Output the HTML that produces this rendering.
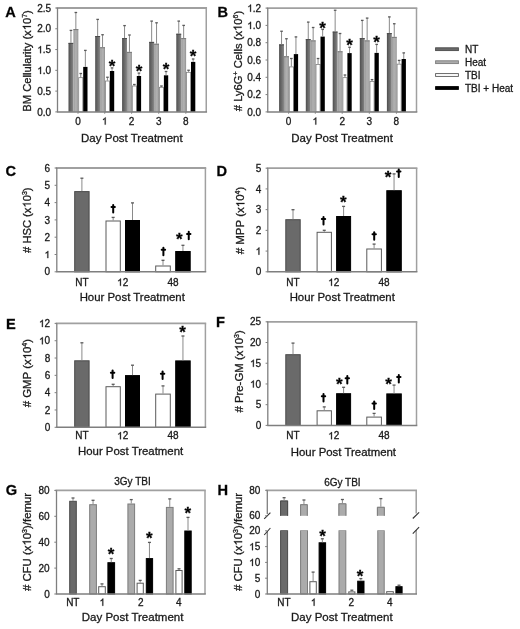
<!DOCTYPE html>
<html><head><meta charset="utf-8"><style>
html,body{margin:0;padding:0;background:#fff;width:520px;height:629px;overflow:hidden;}
body{position:relative;font-family:"Liberation Sans", sans-serif;}
svg{filter:grayscale(1);}
text{stroke:#1a1a1a;stroke-width:0.3px;}
</style></head><body>
<svg width="520" height="629" viewBox="0 0 520 629" style="position:absolute;left:0;top:0">
<rect width="520" height="629" fill="#fff"/>
<defs><linearGradient id="gNT" x1="0" x2="1" y1="0" y2="0"><stop offset="0" stop-color="#4c4c4c"/><stop offset="0.25" stop-color="#5e5e5e"/><stop offset="0.65" stop-color="#737373"/><stop offset="1" stop-color="#8a8a8a"/></linearGradient><linearGradient id="gHT" x1="0" x2="1" y1="0" y2="0"><stop offset="0" stop-color="#9a9a9a"/><stop offset="0.45" stop-color="#b0b0b0"/><stop offset="0.8" stop-color="#a8a8a8"/><stop offset="1" stop-color="#868686"/></linearGradient></defs>
<rect x="68.50" y="42.90" width="4.90" height="69.00" fill="url(#gNT)"/>
<line x1="68.50" y1="43.40" x2="73.40" y2="43.40" stroke="#4a4a4a" stroke-width="1"/>
<line x1="70.95" y1="42.90" x2="70.95" y2="30.40" stroke="#8a8a8a" stroke-width="1"/>
<line x1="69.65" y1="30.40" x2="72.25" y2="30.40" stroke="#5a5a5a" stroke-width="1.3"/>
<rect x="73.40" y="29.10" width="4.90" height="82.80" fill="url(#gHT)"/>
<line x1="73.40" y1="29.60" x2="78.30" y2="29.60" stroke="#7a7a7a" stroke-width="1"/>
<line x1="75.85" y1="29.10" x2="75.85" y2="12.50" stroke="#8a8a8a" stroke-width="1"/>
<line x1="74.55" y1="12.50" x2="77.15" y2="12.50" stroke="#5a5a5a" stroke-width="1.3"/>
<rect x="78.70" y="77.65" width="4.10" height="34.25" fill="#fff" stroke="#808080" stroke-width="0.8"/>
<line x1="80.75" y1="77.25" x2="80.75" y2="73.50" stroke="#8a8a8a" stroke-width="1"/>
<line x1="79.45" y1="73.50" x2="82.05" y2="73.50" stroke="#5a5a5a" stroke-width="1.3"/>
<rect x="83.20" y="66.90" width="4.30" height="45.00" fill="#000"/>
<line x1="85.35" y1="66.90" x2="85.35" y2="50.40" stroke="#8a8a8a" stroke-width="1"/>
<line x1="84.05" y1="50.40" x2="86.65" y2="50.40" stroke="#5a5a5a" stroke-width="1.3"/>
<rect x="95.20" y="36.00" width="4.90" height="75.90" fill="url(#gNT)"/>
<line x1="95.20" y1="36.50" x2="100.10" y2="36.50" stroke="#4a4a4a" stroke-width="1"/>
<line x1="97.65" y1="36.00" x2="97.65" y2="19.40" stroke="#8a8a8a" stroke-width="1"/>
<line x1="96.35" y1="19.40" x2="98.95" y2="19.40" stroke="#5a5a5a" stroke-width="1.3"/>
<rect x="100.10" y="47.25" width="4.90" height="64.65" fill="url(#gHT)"/>
<line x1="100.10" y1="47.75" x2="105.00" y2="47.75" stroke="#7a7a7a" stroke-width="1"/>
<line x1="102.55" y1="47.25" x2="102.55" y2="34.75" stroke="#8a8a8a" stroke-width="1"/>
<line x1="101.25" y1="34.75" x2="103.85" y2="34.75" stroke="#5a5a5a" stroke-width="1.3"/>
<rect x="105.40" y="81.00" width="4.10" height="30.90" fill="#fff" stroke="#808080" stroke-width="0.8"/>
<line x1="107.45" y1="80.60" x2="107.45" y2="77.25" stroke="#8a8a8a" stroke-width="1"/>
<line x1="106.15" y1="77.25" x2="108.75" y2="77.25" stroke="#5a5a5a" stroke-width="1.3"/>
<rect x="109.90" y="71.00" width="4.30" height="40.90" fill="#000"/>
<line x1="112.05" y1="71.00" x2="112.05" y2="67.90" stroke="#8a8a8a" stroke-width="1"/>
<line x1="110.75" y1="67.90" x2="113.35" y2="67.90" stroke="#5a5a5a" stroke-width="1.3"/>
<text x="112.05" y="71.83" font-size="17" text-anchor="middle" font-weight="bold" fill="#000">*</text>
<rect x="122.10" y="38.10" width="4.90" height="73.80" fill="url(#gNT)"/>
<line x1="122.10" y1="38.60" x2="127.00" y2="38.60" stroke="#4a4a4a" stroke-width="1"/>
<line x1="124.55" y1="38.10" x2="124.55" y2="25.60" stroke="#8a8a8a" stroke-width="1"/>
<line x1="123.25" y1="25.60" x2="125.85" y2="25.60" stroke="#5a5a5a" stroke-width="1.3"/>
<rect x="127.00" y="51.90" width="4.90" height="60.00" fill="url(#gHT)"/>
<line x1="127.00" y1="52.40" x2="131.90" y2="52.40" stroke="#7a7a7a" stroke-width="1"/>
<line x1="129.45" y1="51.90" x2="129.45" y2="35.00" stroke="#8a8a8a" stroke-width="1"/>
<line x1="128.15" y1="35.00" x2="130.75" y2="35.00" stroke="#5a5a5a" stroke-width="1.3"/>
<rect x="132.30" y="86.00" width="4.10" height="25.90" fill="#fff" stroke="#808080" stroke-width="0.8"/>
<line x1="134.35" y1="85.60" x2="134.35" y2="84.50" stroke="#8a8a8a" stroke-width="1"/>
<line x1="133.05" y1="84.50" x2="135.65" y2="84.50" stroke="#5a5a5a" stroke-width="1.3"/>
<rect x="136.80" y="76.00" width="4.30" height="35.90" fill="#000"/>
<line x1="138.95" y1="76.00" x2="138.95" y2="73.10" stroke="#8a8a8a" stroke-width="1"/>
<line x1="137.65" y1="73.10" x2="140.25" y2="73.10" stroke="#5a5a5a" stroke-width="1.3"/>
<text x="138.95" y="76.63" font-size="17" text-anchor="middle" font-weight="bold" fill="#000">*</text>
<rect x="149.20" y="41.90" width="4.90" height="70.00" fill="url(#gNT)"/>
<line x1="149.20" y1="42.40" x2="154.10" y2="42.40" stroke="#4a4a4a" stroke-width="1"/>
<line x1="151.65" y1="41.90" x2="151.65" y2="21.10" stroke="#8a8a8a" stroke-width="1"/>
<line x1="150.35" y1="21.10" x2="152.95" y2="21.10" stroke="#5a5a5a" stroke-width="1.3"/>
<rect x="154.10" y="43.75" width="4.90" height="68.15" fill="url(#gHT)"/>
<line x1="154.10" y1="44.25" x2="159.00" y2="44.25" stroke="#7a7a7a" stroke-width="1"/>
<line x1="156.55" y1="43.75" x2="156.55" y2="22.80" stroke="#8a8a8a" stroke-width="1"/>
<line x1="155.25" y1="22.80" x2="157.85" y2="22.80" stroke="#5a5a5a" stroke-width="1.3"/>
<rect x="159.40" y="87.30" width="4.10" height="24.60" fill="#fff" stroke="#808080" stroke-width="0.8"/>
<line x1="161.45" y1="86.90" x2="161.45" y2="86.00" stroke="#8a8a8a" stroke-width="1"/>
<line x1="160.15" y1="86.00" x2="162.75" y2="86.00" stroke="#5a5a5a" stroke-width="1.3"/>
<rect x="163.90" y="75.30" width="4.30" height="36.60" fill="#000"/>
<line x1="166.05" y1="75.30" x2="166.05" y2="71.50" stroke="#8a8a8a" stroke-width="1"/>
<line x1="164.75" y1="71.50" x2="167.35" y2="71.50" stroke="#5a5a5a" stroke-width="1.3"/>
<text x="166.05" y="75.43" font-size="17" text-anchor="middle" font-weight="bold" fill="#000">*</text>
<rect x="176.30" y="33.75" width="4.90" height="78.15" fill="url(#gNT)"/>
<line x1="176.30" y1="34.25" x2="181.20" y2="34.25" stroke="#4a4a4a" stroke-width="1"/>
<line x1="178.75" y1="33.75" x2="178.75" y2="21.10" stroke="#8a8a8a" stroke-width="1"/>
<line x1="177.45" y1="21.10" x2="180.05" y2="21.10" stroke="#5a5a5a" stroke-width="1.3"/>
<rect x="181.20" y="38.10" width="4.90" height="73.80" fill="url(#gHT)"/>
<line x1="181.20" y1="38.60" x2="186.10" y2="38.60" stroke="#7a7a7a" stroke-width="1"/>
<line x1="183.65" y1="38.10" x2="183.65" y2="25.40" stroke="#8a8a8a" stroke-width="1"/>
<line x1="182.35" y1="25.40" x2="184.95" y2="25.40" stroke="#5a5a5a" stroke-width="1.3"/>
<rect x="186.50" y="72.30" width="4.10" height="39.60" fill="#fff" stroke="#808080" stroke-width="0.8"/>
<line x1="188.55" y1="71.90" x2="188.55" y2="70.25" stroke="#8a8a8a" stroke-width="1"/>
<line x1="187.25" y1="70.25" x2="189.85" y2="70.25" stroke="#5a5a5a" stroke-width="1.3"/>
<rect x="191.00" y="61.90" width="4.30" height="50.00" fill="#000"/>
<line x1="193.15" y1="61.90" x2="193.15" y2="59.00" stroke="#8a8a8a" stroke-width="1"/>
<line x1="191.85" y1="59.00" x2="194.45" y2="59.00" stroke="#5a5a5a" stroke-width="1.3"/>
<text x="193.15" y="62.28" font-size="17" text-anchor="middle" font-weight="bold" fill="#000">*</text>
<line x1="56.50" y1="8.00" x2="207.05" y2="8.00" stroke="#a0a0a0" stroke-width="1.8"/>
<line x1="206.25" y1="8.00" x2="206.25" y2="111.90" stroke="#a0a0a0" stroke-width="1.5"/>
<line x1="57.50" y1="8.00" x2="57.50" y2="111.90" stroke="#7f7f7f" stroke-width="1.3"/>
<line x1="56.90" y1="111.90" x2="207.05" y2="111.90" stroke="#7f7f7f" stroke-width="1.5"/>
<line x1="55.30" y1="111.90" x2="57.50" y2="111.90" stroke="#7f7f7f" stroke-width="1"/>
<text x="51.20" y="115.50" font-size="10" text-anchor="end" font-weight="normal" fill="#1a1a1a" >0.0</text>
<line x1="55.30" y1="91.12" x2="57.50" y2="91.12" stroke="#7f7f7f" stroke-width="1"/>
<text x="51.20" y="94.72" font-size="10" text-anchor="end" font-weight="normal" fill="#1a1a1a" >0.5</text>
<line x1="55.30" y1="70.34" x2="57.50" y2="70.34" stroke="#7f7f7f" stroke-width="1"/>
<path d="M763 0L583 0L583 1147Q518 1085 465 1054Q412 1023 358.5 992Q305 961 222 930L222 1104Q373 1175 429.5 1225.5Q486 1276 542.5 1326.5Q599 1377 646 1472L763 1472Z" transform="translate(37.30,73.94) scale(0.00488,-0.00488)" fill="#1a1a1a" stroke="#1a1a1a" stroke-width="0.3" vector-effect="non-scaling-stroke"/>
<text x="51.20" y="73.94" font-size="10" text-anchor="end" font-weight="normal" fill="#1a1a1a" >&#8199;.0</text>
<line x1="55.30" y1="49.56" x2="57.50" y2="49.56" stroke="#7f7f7f" stroke-width="1"/>
<path d="M763 0L583 0L583 1147Q518 1085 465 1054Q412 1023 358.5 992Q305 961 222 930L222 1104Q373 1175 429.5 1225.5Q486 1276 542.5 1326.5Q599 1377 646 1472L763 1472Z" transform="translate(37.30,53.16) scale(0.00488,-0.00488)" fill="#1a1a1a" stroke="#1a1a1a" stroke-width="0.3" vector-effect="non-scaling-stroke"/>
<text x="51.20" y="53.16" font-size="10" text-anchor="end" font-weight="normal" fill="#1a1a1a" >&#8199;.5</text>
<line x1="55.30" y1="28.78" x2="57.50" y2="28.78" stroke="#7f7f7f" stroke-width="1"/>
<text x="51.20" y="32.38" font-size="10" text-anchor="end" font-weight="normal" fill="#1a1a1a" >2.0</text>
<line x1="55.30" y1="8.00" x2="57.50" y2="8.00" stroke="#7f7f7f" stroke-width="1"/>
<text x="51.20" y="11.60" font-size="10" text-anchor="end" font-weight="normal" fill="#1a1a1a" >2.5</text>
<line x1="78.00" y1="111.90" x2="78.00" y2="113.90" stroke="#7f7f7f" stroke-width="0.8"/>
<line x1="104.70" y1="111.90" x2="104.70" y2="113.90" stroke="#7f7f7f" stroke-width="0.8"/>
<line x1="131.60" y1="111.90" x2="131.60" y2="113.90" stroke="#7f7f7f" stroke-width="0.8"/>
<line x1="158.70" y1="111.90" x2="158.70" y2="113.90" stroke="#7f7f7f" stroke-width="0.8"/>
<line x1="185.80" y1="111.90" x2="185.80" y2="113.90" stroke="#7f7f7f" stroke-width="0.8"/>
<text x="78.00" y="124.60" font-size="10" text-anchor="middle" font-weight="normal" fill="#1a1a1a" >0</text>
<path d="M763 0L583 0L583 1147Q518 1085 465 1054Q412 1023 358.5 992Q305 961 222 930L222 1104Q373 1175 429.5 1225.5Q486 1276 542.5 1326.5Q599 1377 646 1472L763 1472Z" transform="translate(101.92,124.60) scale(0.00488,-0.00488)" fill="#1a1a1a" stroke="#1a1a1a" stroke-width="0.3" vector-effect="non-scaling-stroke"/>
<text x="104.70" y="124.60" font-size="10" text-anchor="middle" font-weight="normal" fill="#1a1a1a" >&#8199;</text>
<text x="131.60" y="124.60" font-size="10" text-anchor="middle" font-weight="normal" fill="#1a1a1a" >2</text>
<text x="158.70" y="124.60" font-size="10" text-anchor="middle" font-weight="normal" fill="#1a1a1a" >3</text>
<text x="185.80" y="124.60" font-size="10" text-anchor="middle" font-weight="normal" fill="#1a1a1a" >8</text>
<text x="131.88" y="142.30" font-size="11.5" text-anchor="middle" font-weight="normal" fill="#1a1a1a" >Day Post Treatment</text>
<g transform="translate(30.80,60.95) rotate(-90)">
<text class="yt" x="0" y="0" font-size="11.2" text-anchor="middle" fill="#1a1a1a">BM Cellularity (x&#8199;0<tspan font-size="7" dy="-4">7</tspan><tspan dy="4">)</tspan></text>
<path d="M763 0L583 0L583 1147Q518 1085 465 1054Q412 1023 358.5 992Q305 961 222 930L222 1104Q373 1175 429.5 1225.5Q486 1276 542.5 1326.5Q599 1377 646 1472L763 1472Z" transform="translate(30.66,0) scale(0.00547,-0.00547)" fill="#1a1a1a" stroke="#1a1a1a" stroke-width="0.3" vector-effect="non-scaling-stroke"/>
</g>
<text x="5.20" y="16.60" font-size="14.6" font-weight="bold" fill="#000">A</text>
<rect x="279.10" y="44.40" width="4.90" height="67.50" fill="url(#gNT)"/>
<line x1="279.10" y1="44.90" x2="284.00" y2="44.90" stroke="#4a4a4a" stroke-width="1"/>
<line x1="281.55" y1="44.40" x2="281.55" y2="31.25" stroke="#8a8a8a" stroke-width="1"/>
<line x1="280.25" y1="31.25" x2="282.85" y2="31.25" stroke="#5a5a5a" stroke-width="1.3"/>
<rect x="284.00" y="56.25" width="4.90" height="55.65" fill="url(#gHT)"/>
<line x1="284.00" y1="56.75" x2="288.90" y2="56.75" stroke="#7a7a7a" stroke-width="1"/>
<line x1="286.45" y1="56.25" x2="286.45" y2="38.75" stroke="#8a8a8a" stroke-width="1"/>
<line x1="285.15" y1="38.75" x2="287.75" y2="38.75" stroke="#5a5a5a" stroke-width="1.3"/>
<rect x="289.30" y="66.90" width="4.10" height="45.00" fill="#fff" stroke="#808080" stroke-width="0.8"/>
<line x1="291.35" y1="66.50" x2="291.35" y2="58.50" stroke="#8a8a8a" stroke-width="1"/>
<line x1="290.05" y1="58.50" x2="292.65" y2="58.50" stroke="#5a5a5a" stroke-width="1.3"/>
<rect x="293.80" y="54.10" width="4.30" height="57.80" fill="#000"/>
<line x1="295.95" y1="54.10" x2="295.95" y2="36.90" stroke="#8a8a8a" stroke-width="1"/>
<line x1="294.65" y1="36.90" x2="297.25" y2="36.90" stroke="#5a5a5a" stroke-width="1.3"/>
<rect x="305.80" y="39.10" width="4.90" height="72.80" fill="url(#gNT)"/>
<line x1="305.80" y1="39.60" x2="310.70" y2="39.60" stroke="#4a4a4a" stroke-width="1"/>
<line x1="308.25" y1="39.10" x2="308.25" y2="22.10" stroke="#8a8a8a" stroke-width="1"/>
<line x1="306.95" y1="22.10" x2="309.55" y2="22.10" stroke="#5a5a5a" stroke-width="1.3"/>
<rect x="310.70" y="40.40" width="4.90" height="71.50" fill="url(#gHT)"/>
<line x1="310.70" y1="40.90" x2="315.60" y2="40.90" stroke="#7a7a7a" stroke-width="1"/>
<line x1="313.15" y1="40.40" x2="313.15" y2="27.50" stroke="#8a8a8a" stroke-width="1"/>
<line x1="311.85" y1="27.50" x2="314.45" y2="27.50" stroke="#5a5a5a" stroke-width="1.3"/>
<rect x="316.00" y="64.50" width="4.10" height="47.40" fill="#fff" stroke="#808080" stroke-width="0.8"/>
<line x1="318.05" y1="64.10" x2="318.05" y2="58.50" stroke="#8a8a8a" stroke-width="1"/>
<line x1="316.75" y1="58.50" x2="319.35" y2="58.50" stroke="#5a5a5a" stroke-width="1.3"/>
<rect x="320.50" y="36.60" width="4.30" height="75.30" fill="#000"/>
<line x1="322.65" y1="36.60" x2="322.65" y2="29.40" stroke="#8a8a8a" stroke-width="1"/>
<line x1="321.35" y1="29.40" x2="323.95" y2="29.40" stroke="#5a5a5a" stroke-width="1.3"/>
<text x="322.65" y="33.53" font-size="17" text-anchor="middle" font-weight="bold" fill="#000">*</text>
<rect x="332.70" y="31.60" width="4.90" height="80.30" fill="url(#gNT)"/>
<line x1="332.70" y1="32.10" x2="337.60" y2="32.10" stroke="#4a4a4a" stroke-width="1"/>
<line x1="335.15" y1="31.60" x2="335.15" y2="10.25" stroke="#8a8a8a" stroke-width="1"/>
<line x1="333.85" y1="10.25" x2="336.45" y2="10.25" stroke="#5a5a5a" stroke-width="1.3"/>
<rect x="337.60" y="51.25" width="4.90" height="60.65" fill="url(#gHT)"/>
<line x1="337.60" y1="51.75" x2="342.50" y2="51.75" stroke="#7a7a7a" stroke-width="1"/>
<line x1="340.05" y1="51.25" x2="340.05" y2="33.50" stroke="#8a8a8a" stroke-width="1"/>
<line x1="338.75" y1="33.50" x2="341.35" y2="33.50" stroke="#5a5a5a" stroke-width="1.3"/>
<rect x="342.90" y="77.65" width="4.10" height="34.25" fill="#fff" stroke="#808080" stroke-width="0.8"/>
<line x1="344.95" y1="77.25" x2="344.95" y2="75.00" stroke="#8a8a8a" stroke-width="1"/>
<line x1="343.65" y1="75.00" x2="346.25" y2="75.00" stroke="#5a5a5a" stroke-width="1.3"/>
<rect x="347.40" y="53.10" width="4.30" height="58.80" fill="#000"/>
<line x1="349.55" y1="53.10" x2="349.55" y2="47.25" stroke="#8a8a8a" stroke-width="1"/>
<line x1="348.25" y1="47.25" x2="350.85" y2="47.25" stroke="#5a5a5a" stroke-width="1.3"/>
<text x="349.55" y="51.03" font-size="17" text-anchor="middle" font-weight="bold" fill="#000">*</text>
<rect x="359.80" y="38.10" width="4.90" height="73.80" fill="url(#gNT)"/>
<line x1="359.80" y1="38.60" x2="364.70" y2="38.60" stroke="#4a4a4a" stroke-width="1"/>
<line x1="362.25" y1="38.10" x2="362.25" y2="20.40" stroke="#8a8a8a" stroke-width="1"/>
<line x1="360.95" y1="20.40" x2="363.55" y2="20.40" stroke="#5a5a5a" stroke-width="1.3"/>
<rect x="364.70" y="40.40" width="4.90" height="71.50" fill="url(#gHT)"/>
<line x1="364.70" y1="40.90" x2="369.60" y2="40.90" stroke="#7a7a7a" stroke-width="1"/>
<line x1="367.15" y1="40.40" x2="367.15" y2="18.10" stroke="#8a8a8a" stroke-width="1"/>
<line x1="365.85" y1="18.10" x2="368.45" y2="18.10" stroke="#5a5a5a" stroke-width="1.3"/>
<rect x="370.00" y="81.40" width="4.10" height="30.50" fill="#fff" stroke="#808080" stroke-width="0.8"/>
<line x1="372.05" y1="81.00" x2="372.05" y2="79.60" stroke="#8a8a8a" stroke-width="1"/>
<line x1="370.75" y1="79.60" x2="373.35" y2="79.60" stroke="#5a5a5a" stroke-width="1.3"/>
<rect x="374.50" y="52.90" width="4.30" height="59.00" fill="#000"/>
<line x1="376.65" y1="52.90" x2="376.65" y2="44.40" stroke="#8a8a8a" stroke-width="1"/>
<line x1="375.35" y1="44.40" x2="377.95" y2="44.40" stroke="#5a5a5a" stroke-width="1.3"/>
<text x="376.65" y="48.28" font-size="17" text-anchor="middle" font-weight="bold" fill="#000">*</text>
<rect x="386.90" y="33.10" width="4.90" height="78.80" fill="url(#gNT)"/>
<line x1="386.90" y1="33.60" x2="391.80" y2="33.60" stroke="#4a4a4a" stroke-width="1"/>
<line x1="389.35" y1="33.10" x2="389.35" y2="16.90" stroke="#8a8a8a" stroke-width="1"/>
<line x1="388.05" y1="16.90" x2="390.65" y2="16.90" stroke="#5a5a5a" stroke-width="1.3"/>
<rect x="391.80" y="36.90" width="4.90" height="75.00" fill="url(#gHT)"/>
<line x1="391.80" y1="37.40" x2="396.70" y2="37.40" stroke="#7a7a7a" stroke-width="1"/>
<line x1="394.25" y1="36.90" x2="394.25" y2="23.75" stroke="#8a8a8a" stroke-width="1"/>
<line x1="392.95" y1="23.75" x2="395.55" y2="23.75" stroke="#5a5a5a" stroke-width="1.3"/>
<rect x="397.10" y="64.15" width="4.10" height="47.75" fill="#fff" stroke="#808080" stroke-width="0.8"/>
<line x1="399.15" y1="63.75" x2="399.15" y2="60.40" stroke="#8a8a8a" stroke-width="1"/>
<line x1="397.85" y1="60.40" x2="400.45" y2="60.40" stroke="#5a5a5a" stroke-width="1.3"/>
<rect x="401.60" y="59.00" width="4.30" height="52.90" fill="#000"/>
<line x1="403.75" y1="59.00" x2="403.75" y2="52.90" stroke="#8a8a8a" stroke-width="1"/>
<line x1="402.45" y1="52.90" x2="405.05" y2="52.90" stroke="#5a5a5a" stroke-width="1.3"/>
<line x1="266.75" y1="8.10" x2="417.30" y2="8.10" stroke="#a0a0a0" stroke-width="1.8"/>
<line x1="416.50" y1="8.10" x2="416.50" y2="111.90" stroke="#a0a0a0" stroke-width="1.5"/>
<line x1="267.75" y1="8.10" x2="267.75" y2="111.90" stroke="#7f7f7f" stroke-width="1.3"/>
<line x1="267.15" y1="111.90" x2="417.30" y2="111.90" stroke="#7f7f7f" stroke-width="1.5"/>
<line x1="265.55" y1="111.90" x2="267.75" y2="111.90" stroke="#7f7f7f" stroke-width="1"/>
<text x="261.20" y="115.50" font-size="10" text-anchor="end" font-weight="normal" fill="#1a1a1a" >0.0</text>
<line x1="265.55" y1="94.60" x2="267.75" y2="94.60" stroke="#7f7f7f" stroke-width="1"/>
<text x="261.20" y="98.20" font-size="10" text-anchor="end" font-weight="normal" fill="#1a1a1a" >0.2</text>
<line x1="265.55" y1="77.30" x2="267.75" y2="77.30" stroke="#7f7f7f" stroke-width="1"/>
<text x="261.20" y="80.90" font-size="10" text-anchor="end" font-weight="normal" fill="#1a1a1a" >0.4</text>
<line x1="265.55" y1="60.00" x2="267.75" y2="60.00" stroke="#7f7f7f" stroke-width="1"/>
<text x="261.20" y="63.60" font-size="10" text-anchor="end" font-weight="normal" fill="#1a1a1a" >0.6</text>
<line x1="265.55" y1="42.70" x2="267.75" y2="42.70" stroke="#7f7f7f" stroke-width="1"/>
<text x="261.20" y="46.30" font-size="10" text-anchor="end" font-weight="normal" fill="#1a1a1a" >0.8</text>
<line x1="265.55" y1="25.40" x2="267.75" y2="25.40" stroke="#7f7f7f" stroke-width="1"/>
<path d="M763 0L583 0L583 1147Q518 1085 465 1054Q412 1023 358.5 992Q305 961 222 930L222 1104Q373 1175 429.5 1225.5Q486 1276 542.5 1326.5Q599 1377 646 1472L763 1472Z" transform="translate(247.30,29.00) scale(0.00488,-0.00488)" fill="#1a1a1a" stroke="#1a1a1a" stroke-width="0.3" vector-effect="non-scaling-stroke"/>
<text x="261.20" y="29.00" font-size="10" text-anchor="end" font-weight="normal" fill="#1a1a1a" >&#8199;.0</text>
<line x1="265.55" y1="8.10" x2="267.75" y2="8.10" stroke="#7f7f7f" stroke-width="1"/>
<path d="M763 0L583 0L583 1147Q518 1085 465 1054Q412 1023 358.5 992Q305 961 222 930L222 1104Q373 1175 429.5 1225.5Q486 1276 542.5 1326.5Q599 1377 646 1472L763 1472Z" transform="translate(247.30,11.70) scale(0.00488,-0.00488)" fill="#1a1a1a" stroke="#1a1a1a" stroke-width="0.3" vector-effect="non-scaling-stroke"/>
<text x="261.20" y="11.70" font-size="10" text-anchor="end" font-weight="normal" fill="#1a1a1a" >&#8199;.2</text>
<line x1="288.60" y1="111.90" x2="288.60" y2="113.90" stroke="#7f7f7f" stroke-width="0.8"/>
<line x1="315.30" y1="111.90" x2="315.30" y2="113.90" stroke="#7f7f7f" stroke-width="0.8"/>
<line x1="342.20" y1="111.90" x2="342.20" y2="113.90" stroke="#7f7f7f" stroke-width="0.8"/>
<line x1="369.30" y1="111.90" x2="369.30" y2="113.90" stroke="#7f7f7f" stroke-width="0.8"/>
<line x1="396.40" y1="111.90" x2="396.40" y2="113.90" stroke="#7f7f7f" stroke-width="0.8"/>
<text x="288.60" y="124.60" font-size="10" text-anchor="middle" font-weight="normal" fill="#1a1a1a" >0</text>
<path d="M763 0L583 0L583 1147Q518 1085 465 1054Q412 1023 358.5 992Q305 961 222 930L222 1104Q373 1175 429.5 1225.5Q486 1276 542.5 1326.5Q599 1377 646 1472L763 1472Z" transform="translate(312.52,124.60) scale(0.00488,-0.00488)" fill="#1a1a1a" stroke="#1a1a1a" stroke-width="0.3" vector-effect="non-scaling-stroke"/>
<text x="315.30" y="124.60" font-size="10" text-anchor="middle" font-weight="normal" fill="#1a1a1a" >&#8199;</text>
<text x="342.20" y="124.60" font-size="10" text-anchor="middle" font-weight="normal" fill="#1a1a1a" >2</text>
<text x="369.30" y="124.60" font-size="10" text-anchor="middle" font-weight="normal" fill="#1a1a1a" >3</text>
<text x="396.40" y="124.60" font-size="10" text-anchor="middle" font-weight="normal" fill="#1a1a1a" >8</text>
<text x="342.12" y="142.30" font-size="11.5" text-anchor="middle" font-weight="normal" fill="#1a1a1a" >Day Post Treatment</text>
<g transform="translate(241.60,61.00) rotate(-90)">
<text class="yt" x="0" y="0" font-size="11.2" text-anchor="middle" fill="#1a1a1a"># Ly6G<tspan font-size="7" dy="-4">+</tspan><tspan dy="4"> Cells (x&#8199;0<tspan font-size="7" dy="-4">6</tspan><tspan dy="4">)</tspan></tspan></text>
<path d="M763 0L583 0L583 1147Q518 1085 465 1054Q412 1023 358.5 992Q305 961 222 930L222 1104Q373 1175 429.5 1225.5Q486 1276 542.5 1326.5Q599 1377 646 1472L763 1472Z" transform="translate(30.02,0) scale(0.00547,-0.00547)" fill="#1a1a1a" stroke="#1a1a1a" stroke-width="0.3" vector-effect="non-scaling-stroke"/>
</g>
<text x="217.60" y="17.10" font-size="14.6" font-weight="bold" fill="#000">B</text>
<rect x="435.6" y="47.80" width="22.8" height="2.8" fill="#6a6a6a" stroke="#4a4a4a" stroke-width="0.9"/>
<text x="465.00" y="52.80" font-size="10" text-anchor="start" font-weight="normal" fill="#1a1a1a" >NT</text>
<rect x="435.6" y="60.80" width="22.8" height="2.8" fill="#ababab" stroke="#7c7c7c" stroke-width="0.9"/>
<text x="465.00" y="65.80" font-size="10" text-anchor="start" font-weight="normal" fill="#1a1a1a" >Heat</text>
<rect x="435.6" y="73.60" width="22.8" height="2.8" fill="#ffffff" stroke="#5a5a5a" stroke-width="0.9"/>
<text x="465.00" y="78.60" font-size="10" text-anchor="start" font-weight="normal" fill="#1a1a1a" >TBI</text>
<rect x="435.6" y="86.60" width="22.8" height="2.8" fill="#000000" stroke="#000000" stroke-width="0.9"/>
<text x="465.00" y="91.60" font-size="10" text-anchor="start" font-weight="normal" fill="#1a1a1a" >TBI + Heat</text>
<rect x="74.70" y="191.60" width="14.40" height="80.20" fill="#6a6a6a" stroke="#4a4a4a" stroke-width="1.0"/>
<line x1="81.90" y1="191.10" x2="81.90" y2="178.20" stroke="#8a8a8a" stroke-width="1"/>
<line x1="80.40" y1="178.20" x2="83.40" y2="178.20" stroke="#5a5a5a" stroke-width="1.3"/>
<rect x="106.00" y="221.00" width="14.30" height="50.80" fill="#ffffff" stroke="#5a5a5a" stroke-width="1.0"/>
<line x1="113.15" y1="220.50" x2="113.15" y2="217.40" stroke="#8a8a8a" stroke-width="1"/>
<line x1="111.65" y1="217.40" x2="114.65" y2="217.40" stroke="#5a5a5a" stroke-width="1.3"/>
<rect x="125.50" y="220.50" width="14.00" height="51.30" fill="#000000" stroke="#000000" stroke-width="1.0"/>
<line x1="132.50" y1="220.00" x2="132.50" y2="202.90" stroke="#8a8a8a" stroke-width="1"/>
<line x1="131.00" y1="202.90" x2="134.00" y2="202.90" stroke="#5a5a5a" stroke-width="1.3"/>
<rect x="155.70" y="266.00" width="14.60" height="5.80" fill="#ffffff" stroke="#5a5a5a" stroke-width="1.0"/>
<line x1="163.00" y1="265.50" x2="163.00" y2="260.30" stroke="#8a8a8a" stroke-width="1"/>
<line x1="161.50" y1="260.30" x2="164.50" y2="260.30" stroke="#5a5a5a" stroke-width="1.3"/>
<rect x="175.70" y="251.50" width="14.50" height="20.30" fill="#000000" stroke="#000000" stroke-width="1.0"/>
<line x1="182.95" y1="251.00" x2="182.95" y2="245.30" stroke="#8a8a8a" stroke-width="1"/>
<line x1="181.45" y1="245.30" x2="184.45" y2="245.30" stroke="#5a5a5a" stroke-width="1.3"/>
<line x1="55.80" y1="168.00" x2="206.20" y2="168.00" stroke="#a0a0a0" stroke-width="1.8"/>
<line x1="205.40" y1="168.00" x2="205.40" y2="271.80" stroke="#a0a0a0" stroke-width="1.5"/>
<line x1="56.80" y1="168.00" x2="56.80" y2="271.80" stroke="#7f7f7f" stroke-width="1.3"/>
<line x1="56.20" y1="271.80" x2="206.20" y2="271.80" stroke="#7f7f7f" stroke-width="1.5"/>
<line x1="54.60" y1="271.80" x2="56.80" y2="271.80" stroke="#7f7f7f" stroke-width="1"/>
<text x="50.10" y="275.40" font-size="10" text-anchor="end" font-weight="normal" fill="#1a1a1a" >0</text>
<line x1="54.60" y1="254.50" x2="56.80" y2="254.50" stroke="#7f7f7f" stroke-width="1"/>
<path d="M763 0L583 0L583 1147Q518 1085 465 1054Q412 1023 358.5 992Q305 961 222 930L222 1104Q373 1175 429.5 1225.5Q486 1276 542.5 1326.5Q599 1377 646 1472L763 1472Z" transform="translate(44.54,258.10) scale(0.00488,-0.00488)" fill="#1a1a1a" stroke="#1a1a1a" stroke-width="0.3" vector-effect="non-scaling-stroke"/>
<text x="50.10" y="258.10" font-size="10" text-anchor="end" font-weight="normal" fill="#1a1a1a" >&#8199;</text>
<line x1="54.60" y1="237.20" x2="56.80" y2="237.20" stroke="#7f7f7f" stroke-width="1"/>
<text x="50.10" y="240.80" font-size="10" text-anchor="end" font-weight="normal" fill="#1a1a1a" >2</text>
<line x1="54.60" y1="219.90" x2="56.80" y2="219.90" stroke="#7f7f7f" stroke-width="1"/>
<text x="50.10" y="223.50" font-size="10" text-anchor="end" font-weight="normal" fill="#1a1a1a" >3</text>
<line x1="54.60" y1="202.60" x2="56.80" y2="202.60" stroke="#7f7f7f" stroke-width="1"/>
<text x="50.10" y="206.20" font-size="10" text-anchor="end" font-weight="normal" fill="#1a1a1a" >4</text>
<line x1="54.60" y1="185.30" x2="56.80" y2="185.30" stroke="#7f7f7f" stroke-width="1"/>
<text x="50.10" y="188.90" font-size="10" text-anchor="end" font-weight="normal" fill="#1a1a1a" >5</text>
<line x1="54.60" y1="168.00" x2="56.80" y2="168.00" stroke="#7f7f7f" stroke-width="1"/>
<text x="50.10" y="171.60" font-size="10" text-anchor="end" font-weight="normal" fill="#1a1a1a" >6</text>
<text x="81.90" y="285.80" font-size="10" text-anchor="middle" font-weight="normal" fill="#1a1a1a" >NT</text>
<path d="M763 0L583 0L583 1147Q518 1085 465 1054Q412 1023 358.5 992Q305 961 222 930L222 1104Q373 1175 429.5 1225.5Q486 1276 542.5 1326.5Q599 1377 646 1472L763 1472Z" transform="translate(117.14,285.80) scale(0.00488,-0.00488)" fill="#1a1a1a" stroke="#1a1a1a" stroke-width="0.3" vector-effect="non-scaling-stroke"/>
<text x="122.70" y="285.80" font-size="10" text-anchor="middle" font-weight="normal" fill="#1a1a1a" >&#8199;2</text>
<text x="173.00" y="285.80" font-size="10" text-anchor="middle" font-weight="normal" fill="#1a1a1a" >48</text>
<text x="132.25" y="301.00" font-size="11.42" text-anchor="middle" font-weight="normal" fill="#1a1a1a" >Hour Post Treatment</text>
<g transform="translate(30.80,220.20) rotate(-90)">
<text class="yt" x="0" y="0" font-size="11.2" text-anchor="middle" fill="#1a1a1a"># HSC (x&#8199;0<tspan font-size="7" dy="-4">3</tspan><tspan dy="4">)</tspan></text>
<path d="M763 0L583 0L583 1147Q518 1085 465 1054Q412 1023 358.5 992Q305 961 222 930L222 1104Q373 1175 429.5 1225.5Q486 1276 542.5 1326.5Q599 1377 646 1472L763 1472Z" transform="translate(12.64,0) scale(0.00547,-0.00547)" fill="#1a1a1a" stroke="#1a1a1a" stroke-width="0.3" vector-effect="non-scaling-stroke"/>
</g>
<text x="5.60" y="175.60" font-size="14.6" font-weight="bold" fill="#000">C</text>
<path d="M113.20 204.90V212.40" stroke="#000" stroke-width="2.0" stroke-linecap="round" fill="none"/>
<path d="M111.50 207.00H114.90" stroke="#000" stroke-width="2.0" stroke-linecap="round" fill="none"/>
<path d="M163.40 247.70V255.20" stroke="#000" stroke-width="2.0" stroke-linecap="round" fill="none"/>
<path d="M161.70 249.80H165.10" stroke="#000" stroke-width="2.0" stroke-linecap="round" fill="none"/>
<text x="179.40" y="244.73" font-size="17" text-anchor="middle" font-weight="bold" fill="#000">*</text>
<path d="M188.75 231.80V239.30" stroke="#000" stroke-width="2.0" stroke-linecap="round" fill="none"/>
<path d="M187.05 233.90H190.45" stroke="#000" stroke-width="2.0" stroke-linecap="round" fill="none"/>
<rect x="285.80" y="219.70" width="14.40" height="52.10" fill="#6a6a6a" stroke="#4a4a4a" stroke-width="1.0"/>
<line x1="293.00" y1="219.20" x2="293.00" y2="209.70" stroke="#8a8a8a" stroke-width="1"/>
<line x1="291.50" y1="209.70" x2="294.50" y2="209.70" stroke="#5a5a5a" stroke-width="1.3"/>
<rect x="317.10" y="232.30" width="14.30" height="39.50" fill="#ffffff" stroke="#5a5a5a" stroke-width="1.0"/>
<line x1="324.25" y1="231.80" x2="324.25" y2="230.30" stroke="#8a8a8a" stroke-width="1"/>
<line x1="322.75" y1="230.30" x2="325.75" y2="230.30" stroke="#5a5a5a" stroke-width="1.3"/>
<rect x="336.60" y="216.50" width="14.00" height="55.30" fill="#000000" stroke="#000000" stroke-width="1.0"/>
<line x1="343.60" y1="216.00" x2="343.60" y2="206.40" stroke="#8a8a8a" stroke-width="1"/>
<line x1="342.10" y1="206.40" x2="345.10" y2="206.40" stroke="#5a5a5a" stroke-width="1.3"/>
<rect x="366.80" y="249.00" width="14.60" height="22.80" fill="#ffffff" stroke="#5a5a5a" stroke-width="1.0"/>
<line x1="374.10" y1="248.50" x2="374.10" y2="244.10" stroke="#8a8a8a" stroke-width="1"/>
<line x1="372.60" y1="244.10" x2="375.60" y2="244.10" stroke="#5a5a5a" stroke-width="1.3"/>
<rect x="386.80" y="190.70" width="14.50" height="81.10" fill="#000000" stroke="#000000" stroke-width="1.0"/>
<line x1="394.05" y1="190.20" x2="394.05" y2="173.90" stroke="#8a8a8a" stroke-width="1"/>
<line x1="392.55" y1="173.90" x2="395.55" y2="173.90" stroke="#5a5a5a" stroke-width="1.3"/>
<line x1="266.80" y1="168.20" x2="417.40" y2="168.20" stroke="#a0a0a0" stroke-width="1.8"/>
<line x1="416.60" y1="168.20" x2="416.60" y2="271.80" stroke="#a0a0a0" stroke-width="1.5"/>
<line x1="267.80" y1="168.20" x2="267.80" y2="271.80" stroke="#7f7f7f" stroke-width="1.3"/>
<line x1="267.20" y1="271.80" x2="417.40" y2="271.80" stroke="#7f7f7f" stroke-width="1.5"/>
<line x1="265.60" y1="271.80" x2="267.80" y2="271.80" stroke="#7f7f7f" stroke-width="1"/>
<text x="261.20" y="275.40" font-size="10" text-anchor="end" font-weight="normal" fill="#1a1a1a" >0</text>
<line x1="265.60" y1="251.08" x2="267.80" y2="251.08" stroke="#7f7f7f" stroke-width="1"/>
<path d="M763 0L583 0L583 1147Q518 1085 465 1054Q412 1023 358.5 992Q305 961 222 930L222 1104Q373 1175 429.5 1225.5Q486 1276 542.5 1326.5Q599 1377 646 1472L763 1472Z" transform="translate(255.64,254.68) scale(0.00488,-0.00488)" fill="#1a1a1a" stroke="#1a1a1a" stroke-width="0.3" vector-effect="non-scaling-stroke"/>
<text x="261.20" y="254.68" font-size="10" text-anchor="end" font-weight="normal" fill="#1a1a1a" >&#8199;</text>
<line x1="265.60" y1="230.36" x2="267.80" y2="230.36" stroke="#7f7f7f" stroke-width="1"/>
<text x="261.20" y="233.96" font-size="10" text-anchor="end" font-weight="normal" fill="#1a1a1a" >2</text>
<line x1="265.60" y1="209.64" x2="267.80" y2="209.64" stroke="#7f7f7f" stroke-width="1"/>
<text x="261.20" y="213.24" font-size="10" text-anchor="end" font-weight="normal" fill="#1a1a1a" >3</text>
<line x1="265.60" y1="188.92" x2="267.80" y2="188.92" stroke="#7f7f7f" stroke-width="1"/>
<text x="261.20" y="192.52" font-size="10" text-anchor="end" font-weight="normal" fill="#1a1a1a" >4</text>
<line x1="265.60" y1="168.20" x2="267.80" y2="168.20" stroke="#7f7f7f" stroke-width="1"/>
<text x="261.20" y="171.80" font-size="10" text-anchor="end" font-weight="normal" fill="#1a1a1a" >5</text>
<text x="293.00" y="285.80" font-size="10" text-anchor="middle" font-weight="normal" fill="#1a1a1a" >NT</text>
<path d="M763 0L583 0L583 1147Q518 1085 465 1054Q412 1023 358.5 992Q305 961 222 930L222 1104Q373 1175 429.5 1225.5Q486 1276 542.5 1326.5Q599 1377 646 1472L763 1472Z" transform="translate(328.24,285.80) scale(0.00488,-0.00488)" fill="#1a1a1a" stroke="#1a1a1a" stroke-width="0.3" vector-effect="non-scaling-stroke"/>
<text x="333.80" y="285.80" font-size="10" text-anchor="middle" font-weight="normal" fill="#1a1a1a" >&#8199;2</text>
<text x="384.10" y="285.80" font-size="10" text-anchor="middle" font-weight="normal" fill="#1a1a1a" >48</text>
<text x="342.25" y="301.00" font-size="11.42" text-anchor="middle" font-weight="normal" fill="#1a1a1a" >Hour Post Treatment</text>
<g transform="translate(244.40,220.50) rotate(-90)">
<text class="yt" x="0" y="0" font-size="11.5" text-anchor="middle" fill="#1a1a1a"># MPP (x&#8199;0<tspan font-size="7" dy="-4">4</tspan><tspan dy="4">)</tspan></text>
<path d="M763 0L583 0L583 1147Q518 1085 465 1054Q412 1023 358.5 992Q305 961 222 930L222 1104Q373 1175 429.5 1225.5Q486 1276 542.5 1326.5Q599 1377 646 1472L763 1472Z" transform="translate(13.27,0) scale(0.00562,-0.00562)" fill="#1a1a1a" stroke="#1a1a1a" stroke-width="0.3" vector-effect="non-scaling-stroke"/>
</g>
<text x="216.40" y="175.60" font-size="14.6" font-weight="bold" fill="#000">D</text>
<path d="M323.50 216.90V224.40" stroke="#000" stroke-width="2.0" stroke-linecap="round" fill="none"/>
<path d="M321.80 219.00H325.20" stroke="#000" stroke-width="2.0" stroke-linecap="round" fill="none"/>
<text x="343.20" y="208.03" font-size="17" text-anchor="middle" font-weight="bold" fill="#000">*</text>
<path d="M374.20 232.20V239.70" stroke="#000" stroke-width="2.0" stroke-linecap="round" fill="none"/>
<path d="M372.50 234.30H375.90" stroke="#000" stroke-width="2.0" stroke-linecap="round" fill="none"/>
<text x="388.10" y="182.73" font-size="17" text-anchor="middle" font-weight="bold" fill="#000">*</text>
<path d="M398.75 169.40V176.90" stroke="#000" stroke-width="2.0" stroke-linecap="round" fill="none"/>
<path d="M397.05 171.50H400.45" stroke="#000" stroke-width="2.0" stroke-linecap="round" fill="none"/>
<rect x="74.70" y="360.80" width="14.40" height="66.50" fill="#6a6a6a" stroke="#4a4a4a" stroke-width="1.0"/>
<line x1="81.90" y1="360.30" x2="81.90" y2="342.80" stroke="#8a8a8a" stroke-width="1"/>
<line x1="80.40" y1="342.80" x2="83.40" y2="342.80" stroke="#5a5a5a" stroke-width="1.3"/>
<rect x="106.00" y="386.70" width="14.30" height="40.60" fill="#ffffff" stroke="#5a5a5a" stroke-width="1.0"/>
<line x1="113.15" y1="386.20" x2="113.15" y2="384.30" stroke="#8a8a8a" stroke-width="1"/>
<line x1="111.65" y1="384.30" x2="114.65" y2="384.30" stroke="#5a5a5a" stroke-width="1.3"/>
<rect x="125.50" y="375.60" width="14.00" height="51.70" fill="#000000" stroke="#000000" stroke-width="1.0"/>
<line x1="132.50" y1="375.10" x2="132.50" y2="365.20" stroke="#8a8a8a" stroke-width="1"/>
<line x1="131.00" y1="365.20" x2="134.00" y2="365.20" stroke="#5a5a5a" stroke-width="1.3"/>
<rect x="155.70" y="394.10" width="14.60" height="33.20" fill="#ffffff" stroke="#5a5a5a" stroke-width="1.0"/>
<line x1="163.00" y1="393.60" x2="163.00" y2="385.90" stroke="#8a8a8a" stroke-width="1"/>
<line x1="161.50" y1="385.90" x2="164.50" y2="385.90" stroke="#5a5a5a" stroke-width="1.3"/>
<rect x="175.70" y="360.90" width="14.50" height="66.40" fill="#000000" stroke="#000000" stroke-width="1.0"/>
<line x1="182.95" y1="360.40" x2="182.95" y2="336.00" stroke="#8a8a8a" stroke-width="1"/>
<line x1="181.45" y1="336.00" x2="184.45" y2="336.00" stroke="#5a5a5a" stroke-width="1.3"/>
<line x1="55.80" y1="323.40" x2="206.20" y2="323.40" stroke="#a0a0a0" stroke-width="1.8"/>
<line x1="205.40" y1="323.40" x2="205.40" y2="427.30" stroke="#a0a0a0" stroke-width="1.5"/>
<line x1="56.80" y1="323.40" x2="56.80" y2="427.30" stroke="#7f7f7f" stroke-width="1.3"/>
<line x1="56.20" y1="427.30" x2="206.20" y2="427.30" stroke="#7f7f7f" stroke-width="1.5"/>
<line x1="54.60" y1="427.30" x2="56.80" y2="427.30" stroke="#7f7f7f" stroke-width="1"/>
<text x="50.20" y="430.90" font-size="10" text-anchor="end" font-weight="normal" fill="#1a1a1a" >0</text>
<line x1="54.60" y1="409.98" x2="56.80" y2="409.98" stroke="#7f7f7f" stroke-width="1"/>
<text x="50.20" y="413.58" font-size="10" text-anchor="end" font-weight="normal" fill="#1a1a1a" >2</text>
<line x1="54.60" y1="392.67" x2="56.80" y2="392.67" stroke="#7f7f7f" stroke-width="1"/>
<text x="50.20" y="396.27" font-size="10" text-anchor="end" font-weight="normal" fill="#1a1a1a" >4</text>
<line x1="54.60" y1="375.35" x2="56.80" y2="375.35" stroke="#7f7f7f" stroke-width="1"/>
<text x="50.20" y="378.95" font-size="10" text-anchor="end" font-weight="normal" fill="#1a1a1a" >6</text>
<line x1="54.60" y1="358.03" x2="56.80" y2="358.03" stroke="#7f7f7f" stroke-width="1"/>
<text x="50.20" y="361.63" font-size="10" text-anchor="end" font-weight="normal" fill="#1a1a1a" >8</text>
<line x1="54.60" y1="340.72" x2="56.80" y2="340.72" stroke="#7f7f7f" stroke-width="1"/>
<path d="M763 0L583 0L583 1147Q518 1085 465 1054Q412 1023 358.5 992Q305 961 222 930L222 1104Q373 1175 429.5 1225.5Q486 1276 542.5 1326.5Q599 1377 646 1472L763 1472Z" transform="translate(39.08,344.32) scale(0.00488,-0.00488)" fill="#1a1a1a" stroke="#1a1a1a" stroke-width="0.3" vector-effect="non-scaling-stroke"/>
<text x="50.20" y="344.32" font-size="10" text-anchor="end" font-weight="normal" fill="#1a1a1a" >&#8199;0</text>
<line x1="54.60" y1="323.40" x2="56.80" y2="323.40" stroke="#7f7f7f" stroke-width="1"/>
<path d="M763 0L583 0L583 1147Q518 1085 465 1054Q412 1023 358.5 992Q305 961 222 930L222 1104Q373 1175 429.5 1225.5Q486 1276 542.5 1326.5Q599 1377 646 1472L763 1472Z" transform="translate(39.08,327.00) scale(0.00488,-0.00488)" fill="#1a1a1a" stroke="#1a1a1a" stroke-width="0.3" vector-effect="non-scaling-stroke"/>
<text x="50.20" y="327.00" font-size="10" text-anchor="end" font-weight="normal" fill="#1a1a1a" >&#8199;2</text>
<text x="81.90" y="439.20" font-size="10" text-anchor="middle" font-weight="normal" fill="#1a1a1a" >NT</text>
<path d="M763 0L583 0L583 1147Q518 1085 465 1054Q412 1023 358.5 992Q305 961 222 930L222 1104Q373 1175 429.5 1225.5Q486 1276 542.5 1326.5Q599 1377 646 1472L763 1472Z" transform="translate(117.14,439.20) scale(0.00488,-0.00488)" fill="#1a1a1a" stroke="#1a1a1a" stroke-width="0.3" vector-effect="non-scaling-stroke"/>
<text x="122.70" y="439.20" font-size="10" text-anchor="middle" font-weight="normal" fill="#1a1a1a" >&#8199;2</text>
<text x="173.00" y="439.20" font-size="10" text-anchor="middle" font-weight="normal" fill="#1a1a1a" >48</text>
<text x="130.60" y="455.00" font-size="11.42" text-anchor="middle" font-weight="normal" fill="#1a1a1a" >Hour Post Treatment</text>
<g transform="translate(31.30,373.10) rotate(-90)">
<text class="yt" x="0" y="0" font-size="11.4" text-anchor="middle" fill="#1a1a1a"># GMP (x&#8199;0<tspan font-size="7" dy="-4">4</tspan><tspan dy="4">)</tspan></text>
<path d="M763 0L583 0L583 1147Q518 1085 465 1054Q412 1023 358.5 992Q305 961 222 930L222 1104Q373 1175 429.5 1225.5Q486 1276 542.5 1326.5Q599 1377 646 1472L763 1472Z" transform="translate(13.75,0) scale(0.00557,-0.00557)" fill="#1a1a1a" stroke="#1a1a1a" stroke-width="0.3" vector-effect="non-scaling-stroke"/>
</g>
<text x="6.00" y="329.20" font-size="14.6" font-weight="bold" fill="#000">E</text>
<path d="M112.60 370.60V378.10" stroke="#000" stroke-width="2.0" stroke-linecap="round" fill="none"/>
<path d="M110.90 372.70H114.30" stroke="#000" stroke-width="2.0" stroke-linecap="round" fill="none"/>
<path d="M162.60 371.60V379.10" stroke="#000" stroke-width="2.0" stroke-linecap="round" fill="none"/>
<path d="M160.90 373.70H164.30" stroke="#000" stroke-width="2.0" stroke-linecap="round" fill="none"/>
<text x="182.50" y="338.03" font-size="17" text-anchor="middle" font-weight="bold" fill="#000">*</text>
<rect x="285.80" y="354.70" width="14.40" height="70.70" fill="#6a6a6a" stroke="#4a4a4a" stroke-width="1.0"/>
<line x1="293.00" y1="354.20" x2="293.00" y2="343.10" stroke="#8a8a8a" stroke-width="1"/>
<line x1="291.50" y1="343.10" x2="294.50" y2="343.10" stroke="#5a5a5a" stroke-width="1.3"/>
<rect x="317.10" y="410.80" width="14.30" height="14.60" fill="#ffffff" stroke="#5a5a5a" stroke-width="1.0"/>
<line x1="324.25" y1="410.30" x2="324.25" y2="406.90" stroke="#8a8a8a" stroke-width="1"/>
<line x1="322.75" y1="406.90" x2="325.75" y2="406.90" stroke="#5a5a5a" stroke-width="1.3"/>
<rect x="336.60" y="393.70" width="14.00" height="31.70" fill="#000000" stroke="#000000" stroke-width="1.0"/>
<line x1="343.60" y1="393.20" x2="343.60" y2="387.30" stroke="#8a8a8a" stroke-width="1"/>
<line x1="342.10" y1="387.30" x2="345.10" y2="387.30" stroke="#5a5a5a" stroke-width="1.3"/>
<rect x="366.80" y="417.10" width="14.60" height="8.30" fill="#ffffff" stroke="#5a5a5a" stroke-width="1.0"/>
<line x1="374.10" y1="416.60" x2="374.10" y2="413.40" stroke="#8a8a8a" stroke-width="1"/>
<line x1="372.60" y1="413.40" x2="375.60" y2="413.40" stroke="#5a5a5a" stroke-width="1.3"/>
<rect x="386.80" y="393.90" width="14.50" height="31.50" fill="#000000" stroke="#000000" stroke-width="1.0"/>
<line x1="394.05" y1="393.40" x2="394.05" y2="385.10" stroke="#8a8a8a" stroke-width="1"/>
<line x1="392.55" y1="385.10" x2="395.55" y2="385.10" stroke="#5a5a5a" stroke-width="1.3"/>
<line x1="266.80" y1="321.80" x2="417.30" y2="321.80" stroke="#a0a0a0" stroke-width="1.8"/>
<line x1="416.50" y1="321.80" x2="416.50" y2="425.40" stroke="#a0a0a0" stroke-width="1.5"/>
<line x1="267.80" y1="321.80" x2="267.80" y2="425.40" stroke="#7f7f7f" stroke-width="1.3"/>
<line x1="267.20" y1="425.40" x2="417.30" y2="425.40" stroke="#7f7f7f" stroke-width="1.5"/>
<line x1="265.60" y1="425.40" x2="267.80" y2="425.40" stroke="#7f7f7f" stroke-width="1"/>
<text x="261.20" y="429.00" font-size="10" text-anchor="end" font-weight="normal" fill="#1a1a1a" >0</text>
<line x1="265.60" y1="404.68" x2="267.80" y2="404.68" stroke="#7f7f7f" stroke-width="1"/>
<text x="261.20" y="408.28" font-size="10" text-anchor="end" font-weight="normal" fill="#1a1a1a" >5</text>
<line x1="265.60" y1="383.96" x2="267.80" y2="383.96" stroke="#7f7f7f" stroke-width="1"/>
<path d="M763 0L583 0L583 1147Q518 1085 465 1054Q412 1023 358.5 992Q305 961 222 930L222 1104Q373 1175 429.5 1225.5Q486 1276 542.5 1326.5Q599 1377 646 1472L763 1472Z" transform="translate(250.08,387.56) scale(0.00488,-0.00488)" fill="#1a1a1a" stroke="#1a1a1a" stroke-width="0.3" vector-effect="non-scaling-stroke"/>
<text x="261.20" y="387.56" font-size="10" text-anchor="end" font-weight="normal" fill="#1a1a1a" >&#8199;0</text>
<line x1="265.60" y1="363.24" x2="267.80" y2="363.24" stroke="#7f7f7f" stroke-width="1"/>
<path d="M763 0L583 0L583 1147Q518 1085 465 1054Q412 1023 358.5 992Q305 961 222 930L222 1104Q373 1175 429.5 1225.5Q486 1276 542.5 1326.5Q599 1377 646 1472L763 1472Z" transform="translate(250.08,366.84) scale(0.00488,-0.00488)" fill="#1a1a1a" stroke="#1a1a1a" stroke-width="0.3" vector-effect="non-scaling-stroke"/>
<text x="261.20" y="366.84" font-size="10" text-anchor="end" font-weight="normal" fill="#1a1a1a" >&#8199;5</text>
<line x1="265.60" y1="342.52" x2="267.80" y2="342.52" stroke="#7f7f7f" stroke-width="1"/>
<text x="261.20" y="346.12" font-size="10" text-anchor="end" font-weight="normal" fill="#1a1a1a" >20</text>
<line x1="265.60" y1="321.80" x2="267.80" y2="321.80" stroke="#7f7f7f" stroke-width="1"/>
<text x="261.20" y="325.40" font-size="10" text-anchor="end" font-weight="normal" fill="#1a1a1a" >25</text>
<text x="293.00" y="439.20" font-size="10" text-anchor="middle" font-weight="normal" fill="#1a1a1a" >NT</text>
<path d="M763 0L583 0L583 1147Q518 1085 465 1054Q412 1023 358.5 992Q305 961 222 930L222 1104Q373 1175 429.5 1225.5Q486 1276 542.5 1326.5Q599 1377 646 1472L763 1472Z" transform="translate(328.24,439.20) scale(0.00488,-0.00488)" fill="#1a1a1a" stroke="#1a1a1a" stroke-width="0.3" vector-effect="non-scaling-stroke"/>
<text x="333.80" y="439.20" font-size="10" text-anchor="middle" font-weight="normal" fill="#1a1a1a" >&#8199;2</text>
<text x="384.10" y="439.20" font-size="10" text-anchor="middle" font-weight="normal" fill="#1a1a1a" >48</text>
<text x="343.40" y="455.50" font-size="11.42" text-anchor="middle" font-weight="normal" fill="#1a1a1a" >Hour Post Treatment</text>
<g transform="translate(243.10,371.40) rotate(-90)">
<text class="yt" x="0" y="0" font-size="11.4" text-anchor="middle" fill="#1a1a1a"># Pre-GM (x&#8199;0<tspan font-size="7" dy="-4">3</tspan><tspan dy="4">)</tspan></text>
<path d="M763 0L583 0L583 1147Q518 1085 465 1054Q412 1023 358.5 992Q305 961 222 930L222 1104Q373 1175 429.5 1225.5Q486 1276 542.5 1326.5Q599 1377 646 1472L763 1472Z" transform="translate(20.81,0) scale(0.00557,-0.00557)" fill="#1a1a1a" stroke="#1a1a1a" stroke-width="0.3" vector-effect="non-scaling-stroke"/>
</g>
<text x="216.10" y="327.30" font-size="14.6" font-weight="bold" fill="#000">F</text>
<path d="M323.50 394.10V401.60" stroke="#000" stroke-width="2.0" stroke-linecap="round" fill="none"/>
<path d="M321.80 396.20H325.20" stroke="#000" stroke-width="2.0" stroke-linecap="round" fill="none"/>
<text x="339.20" y="390.03" font-size="17" text-anchor="middle" font-weight="bold" fill="#000">*</text>
<path d="M347.30 376.10V383.60" stroke="#000" stroke-width="2.0" stroke-linecap="round" fill="none"/>
<path d="M345.60 378.20H349.00" stroke="#000" stroke-width="2.0" stroke-linecap="round" fill="none"/>
<path d="M374.20 401.40V408.90" stroke="#000" stroke-width="2.0" stroke-linecap="round" fill="none"/>
<path d="M372.50 403.50H375.90" stroke="#000" stroke-width="2.0" stroke-linecap="round" fill="none"/>
<text x="388.50" y="389.73" font-size="17" text-anchor="middle" font-weight="bold" fill="#000">*</text>
<path d="M398.80 374.90V382.40" stroke="#000" stroke-width="2.0" stroke-linecap="round" fill="none"/>
<path d="M397.10 377.00H400.50" stroke="#000" stroke-width="2.0" stroke-linecap="round" fill="none"/>
<rect x="69.70" y="501.30" width="6.60" height="92.70" fill="#6a6a6a" stroke="#4a4a4a" stroke-width="1.0"/>
<line x1="73.00" y1="500.80" x2="73.00" y2="498.00" stroke="#8a8a8a" stroke-width="1"/>
<line x1="71.50" y1="498.00" x2="74.50" y2="498.00" stroke="#5a5a5a" stroke-width="1.3"/>
<rect x="89.70" y="504.70" width="6.70" height="89.30" fill="#ababab" stroke="#7c7c7c" stroke-width="1.0"/>
<line x1="93.05" y1="504.20" x2="93.05" y2="500.30" stroke="#8a8a8a" stroke-width="1"/>
<line x1="91.55" y1="500.30" x2="94.55" y2="500.30" stroke="#5a5a5a" stroke-width="1.3"/>
<rect x="98.70" y="586.70" width="6.60" height="7.30" fill="#ffffff" stroke="#5a5a5a" stroke-width="1.0"/>
<line x1="102.00" y1="586.20" x2="102.00" y2="583.90" stroke="#8a8a8a" stroke-width="1"/>
<line x1="100.50" y1="583.90" x2="103.50" y2="583.90" stroke="#5a5a5a" stroke-width="1.3"/>
<rect x="107.90" y="562.70" width="6.70" height="31.30" fill="#000000" stroke="#000000" stroke-width="1.0"/>
<line x1="111.25" y1="562.20" x2="111.25" y2="558.50" stroke="#8a8a8a" stroke-width="1"/>
<line x1="109.75" y1="558.50" x2="112.75" y2="558.50" stroke="#5a5a5a" stroke-width="1.3"/>
<rect x="127.90" y="504.00" width="6.70" height="90.00" fill="#ababab" stroke="#7c7c7c" stroke-width="1.0"/>
<line x1="131.25" y1="503.50" x2="131.25" y2="499.60" stroke="#8a8a8a" stroke-width="1"/>
<line x1="129.75" y1="499.60" x2="132.75" y2="499.60" stroke="#5a5a5a" stroke-width="1.3"/>
<rect x="137.10" y="583.20" width="6.20" height="10.80" fill="#ffffff" stroke="#5a5a5a" stroke-width="1.0"/>
<line x1="140.20" y1="582.70" x2="140.20" y2="580.40" stroke="#8a8a8a" stroke-width="1"/>
<line x1="138.70" y1="580.40" x2="141.70" y2="580.40" stroke="#5a5a5a" stroke-width="1.3"/>
<rect x="146.30" y="558.60" width="6.30" height="35.40" fill="#000000" stroke="#000000" stroke-width="1.0"/>
<line x1="149.45" y1="558.10" x2="149.45" y2="542.40" stroke="#8a8a8a" stroke-width="1"/>
<line x1="147.95" y1="542.40" x2="150.95" y2="542.40" stroke="#5a5a5a" stroke-width="1.3"/>
<rect x="166.40" y="507.40" width="6.70" height="86.60" fill="#ababab" stroke="#7c7c7c" stroke-width="1.0"/>
<line x1="169.75" y1="506.90" x2="169.75" y2="498.90" stroke="#8a8a8a" stroke-width="1"/>
<line x1="168.25" y1="498.90" x2="171.25" y2="498.90" stroke="#5a5a5a" stroke-width="1.3"/>
<rect x="175.90" y="570.50" width="6.20" height="23.50" fill="#ffffff" stroke="#5a5a5a" stroke-width="1.0"/>
<line x1="179.00" y1="570.00" x2="179.00" y2="568.80" stroke="#8a8a8a" stroke-width="1"/>
<line x1="177.50" y1="568.80" x2="180.50" y2="568.80" stroke="#5a5a5a" stroke-width="1.3"/>
<rect x="184.80" y="531.00" width="6.40" height="63.00" fill="#000000" stroke="#000000" stroke-width="1.0"/>
<line x1="188.00" y1="530.50" x2="188.00" y2="517.40" stroke="#8a8a8a" stroke-width="1"/>
<line x1="186.50" y1="517.40" x2="189.50" y2="517.40" stroke="#5a5a5a" stroke-width="1.3"/>
<line x1="55.50" y1="490.40" x2="205.80" y2="490.40" stroke="#a0a0a0" stroke-width="1.8"/>
<line x1="205.00" y1="490.40" x2="205.00" y2="594.00" stroke="#a0a0a0" stroke-width="1.5"/>
<line x1="56.50" y1="490.40" x2="56.50" y2="594.00" stroke="#7f7f7f" stroke-width="1.3"/>
<line x1="55.90" y1="594.00" x2="205.80" y2="594.00" stroke="#7f7f7f" stroke-width="1.5"/>
<line x1="54.30" y1="594.00" x2="56.50" y2="594.00" stroke="#7f7f7f" stroke-width="1"/>
<text x="49.70" y="597.60" font-size="10" text-anchor="end" font-weight="normal" fill="#1a1a1a" >0</text>
<line x1="54.30" y1="568.10" x2="56.50" y2="568.10" stroke="#7f7f7f" stroke-width="1"/>
<text x="49.70" y="571.70" font-size="10" text-anchor="end" font-weight="normal" fill="#1a1a1a" >20</text>
<line x1="54.30" y1="542.20" x2="56.50" y2="542.20" stroke="#7f7f7f" stroke-width="1"/>
<text x="49.70" y="545.80" font-size="10" text-anchor="end" font-weight="normal" fill="#1a1a1a" >40</text>
<line x1="54.30" y1="516.30" x2="56.50" y2="516.30" stroke="#7f7f7f" stroke-width="1"/>
<text x="49.70" y="519.90" font-size="10" text-anchor="end" font-weight="normal" fill="#1a1a1a" >60</text>
<line x1="54.30" y1="490.40" x2="56.50" y2="490.40" stroke="#7f7f7f" stroke-width="1"/>
<text x="49.70" y="494.00" font-size="10" text-anchor="end" font-weight="normal" fill="#1a1a1a" >80</text>
<text x="111.00" y="559.73" font-size="17" text-anchor="middle" font-weight="bold" fill="#000">*</text>
<text x="149.20" y="543.53" font-size="17" text-anchor="middle" font-weight="bold" fill="#000">*</text>
<text x="187.70" y="518.53" font-size="17" text-anchor="middle" font-weight="bold" fill="#000">*</text>
<text x="72.80" y="605.80" font-size="10" text-anchor="middle" font-weight="normal" fill="#1a1a1a" >NT</text>
<path d="M763 0L583 0L583 1147Q518 1085 465 1054Q412 1023 358.5 992Q305 961 222 930L222 1104Q373 1175 429.5 1225.5Q486 1276 542.5 1326.5Q599 1377 646 1472L763 1472Z" transform="translate(99.52,605.80) scale(0.00488,-0.00488)" fill="#1a1a1a" stroke="#1a1a1a" stroke-width="0.3" vector-effect="non-scaling-stroke"/>
<text x="102.30" y="605.80" font-size="10" text-anchor="middle" font-weight="normal" fill="#1a1a1a" >&#8199;</text>
<text x="140.80" y="605.80" font-size="10" text-anchor="middle" font-weight="normal" fill="#1a1a1a" >2</text>
<text x="178.80" y="605.80" font-size="10" text-anchor="middle" font-weight="normal" fill="#1a1a1a" >4</text>
<text x="132.60" y="620.80" font-size="11.5" text-anchor="middle" font-weight="normal" fill="#1a1a1a" >Day Post Treatment</text>
<text x="132.50" y="485.30" font-size="10" text-anchor="middle" font-weight="normal" fill="#1a1a1a" >3Gy TBI</text>
<g transform="translate(30.80,542.00) rotate(-90)">
<text class="yt" x="0" y="0" font-size="11.4" text-anchor="middle" fill="#1a1a1a"># CFU (x&#8199;0<tspan font-size="7" dy="-4">3</tspan><tspan dy="4">)/femur</tspan></text>
<path d="M763 0L583 0L583 1147Q518 1085 465 1054Q412 1023 358.5 992Q305 961 222 930L222 1104Q373 1175 429.5 1225.5Q486 1276 542.5 1326.5Q599 1377 646 1472L763 1472Z" transform="translate(-3.55,0) scale(0.00557,-0.00557)" fill="#1a1a1a" stroke="#1a1a1a" stroke-width="0.3" vector-effect="non-scaling-stroke"/>
</g>
<text x="5.80" y="494.60" font-size="14.6" font-weight="bold" fill="#000">G</text>
<rect x="280.10" y="500.50" width="8.00" height="15.30" fill="#6a6a6a"/>
<path d="M280.60 515.80V501.00H287.60V515.80" fill="none" stroke="#4a4a4a" stroke-width="1"/>
<line x1="284.10" y1="500.50" x2="284.10" y2="497.70" stroke="#8a8a8a" stroke-width="1"/>
<line x1="282.60" y1="497.70" x2="285.60" y2="497.70" stroke="#5a5a5a" stroke-width="1.3"/>
<rect x="300.10" y="504.20" width="7.70" height="11.60" fill="#ababab"/>
<path d="M300.60 515.80V504.70H307.30V515.80" fill="none" stroke="#7c7c7c" stroke-width="1"/>
<line x1="303.95" y1="504.20" x2="303.95" y2="500.00" stroke="#8a8a8a" stroke-width="1"/>
<line x1="302.45" y1="500.00" x2="305.45" y2="500.00" stroke="#5a5a5a" stroke-width="1.3"/>
<rect x="338.40" y="503.30" width="8.00" height="12.50" fill="#ababab"/>
<path d="M338.90 515.80V503.80H345.90V515.80" fill="none" stroke="#7c7c7c" stroke-width="1"/>
<line x1="342.40" y1="503.30" x2="342.40" y2="499.50" stroke="#8a8a8a" stroke-width="1"/>
<line x1="340.90" y1="499.50" x2="343.90" y2="499.50" stroke="#5a5a5a" stroke-width="1.3"/>
<rect x="376.90" y="506.80" width="7.90" height="9.00" fill="#ababab"/>
<path d="M377.40 515.80V507.30H384.30V515.80" fill="none" stroke="#7c7c7c" stroke-width="1"/>
<line x1="380.85" y1="506.80" x2="380.85" y2="498.60" stroke="#8a8a8a" stroke-width="1"/>
<line x1="379.35" y1="498.60" x2="382.35" y2="498.60" stroke="#5a5a5a" stroke-width="1.3"/>
<rect x="280.60" y="530.80" width="7.00" height="63.20" fill="#6a6a6a" stroke="#4a4a4a" stroke-width="1"/>
<rect x="281.10" y="530.30" width="6.00" height="2" fill="#6a6a6a"/>
<rect x="300.60" y="530.80" width="6.90" height="63.20" fill="#ababab" stroke="#7c7c7c" stroke-width="1"/>
<rect x="301.10" y="530.30" width="5.90" height="2" fill="#ababab"/>
<rect x="309.90" y="581.70" width="6.40" height="12.30" fill="#ffffff" stroke="#5a5a5a" stroke-width="1.0"/>
<line x1="313.10" y1="581.20" x2="313.10" y2="572.10" stroke="#8a8a8a" stroke-width="1"/>
<line x1="311.60" y1="572.10" x2="314.60" y2="572.10" stroke="#5a5a5a" stroke-width="1.3"/>
<rect x="319.10" y="542.80" width="6.50" height="51.20" fill="#000000" stroke="#000000" stroke-width="1.0"/>
<line x1="322.35" y1="542.30" x2="322.35" y2="538.80" stroke="#8a8a8a" stroke-width="1"/>
<line x1="320.85" y1="538.80" x2="323.85" y2="538.80" stroke="#5a5a5a" stroke-width="1.3"/>
<rect x="339.00" y="530.80" width="6.80" height="63.20" fill="#ababab" stroke="#7c7c7c" stroke-width="1"/>
<rect x="339.50" y="530.30" width="5.80" height="2" fill="#ababab"/>
<rect x="348.80" y="591.90" width="6.10" height="2.10" fill="#ffffff" stroke="#5a5a5a" stroke-width="1.0"/>
<line x1="351.85" y1="591.40" x2="351.85" y2="590.20" stroke="#8a8a8a" stroke-width="1"/>
<line x1="350.35" y1="590.20" x2="353.35" y2="590.20" stroke="#5a5a5a" stroke-width="1.3"/>
<rect x="357.70" y="581.20" width="6.30" height="12.80" fill="#000000" stroke="#000000" stroke-width="1.0"/>
<line x1="360.85" y1="580.70" x2="360.85" y2="578.60" stroke="#8a8a8a" stroke-width="1"/>
<line x1="359.35" y1="578.60" x2="362.35" y2="578.60" stroke="#5a5a5a" stroke-width="1.3"/>
<rect x="377.80" y="530.80" width="6.40" height="63.20" fill="#ababab" stroke="#7c7c7c" stroke-width="1"/>
<rect x="378.30" y="530.30" width="5.40" height="2" fill="#ababab"/>
<rect x="386.70" y="591.70" width="6.60" height="2.30" fill="#ffffff" stroke="#5a5a5a" stroke-width="1.0"/>
<rect x="395.90" y="586.70" width="6.20" height="7.30" fill="#000000" stroke="#000000" stroke-width="1.0"/>
<line x1="399.00" y1="586.20" x2="399.00" y2="585.20" stroke="#8a8a8a" stroke-width="1"/>
<line x1="397.50" y1="585.20" x2="400.50" y2="585.20" stroke="#5a5a5a" stroke-width="1.3"/>
<line x1="266.30" y1="490.30" x2="417.00" y2="490.30" stroke="#a0a0a0" stroke-width="1.8"/>
<line x1="416.20" y1="490.30" x2="416.20" y2="513.50" stroke="#a0a0a0" stroke-width="1.5"/>
<line x1="416.20" y1="530.00" x2="416.20" y2="594.00" stroke="#a0a0a0" stroke-width="1.5"/>
<line x1="267.30" y1="490.30" x2="267.30" y2="514.00" stroke="#7f7f7f" stroke-width="1.3"/>
<line x1="267.30" y1="531.00" x2="267.30" y2="594.00" stroke="#7f7f7f" stroke-width="1.3"/>
<line x1="266.70" y1="594.00" x2="417.00" y2="594.00" stroke="#7f7f7f" stroke-width="1.5"/>
<line x1="264.2" y1="518.8" x2="270.4" y2="512.7" stroke="#333" stroke-width="1.1"/>
<line x1="264.2" y1="535.0" x2="270.4" y2="528.0" stroke="#333" stroke-width="1.1"/>
<line x1="412.8" y1="518.5" x2="419.1" y2="512.4" stroke="#333" stroke-width="1.1"/>
<line x1="412.8" y1="533.7" x2="419.1" y2="527.1" stroke="#333" stroke-width="1.1"/>
<line x1="265.10" y1="490.30" x2="267.30" y2="490.30" stroke="#7f7f7f" stroke-width="1"/>
<text x="260.30" y="493.90" font-size="10" text-anchor="end" font-weight="normal" fill="#1a1a1a" >80</text>
<line x1="265.10" y1="515.80" x2="267.30" y2="515.80" stroke="#7f7f7f" stroke-width="1"/>
<text x="260.30" y="519.40" font-size="10" text-anchor="end" font-weight="normal" fill="#1a1a1a" >60</text>
<line x1="265.10" y1="594.00" x2="267.30" y2="594.00" stroke="#7f7f7f" stroke-width="1"/>
<text x="260.30" y="597.60" font-size="10" text-anchor="end" font-weight="normal" fill="#1a1a1a" >0</text>
<line x1="265.10" y1="578.20" x2="267.30" y2="578.20" stroke="#7f7f7f" stroke-width="1"/>
<text x="260.30" y="581.80" font-size="10" text-anchor="end" font-weight="normal" fill="#1a1a1a" >5</text>
<line x1="265.10" y1="562.40" x2="267.30" y2="562.40" stroke="#7f7f7f" stroke-width="1"/>
<path d="M763 0L583 0L583 1147Q518 1085 465 1054Q412 1023 358.5 992Q305 961 222 930L222 1104Q373 1175 429.5 1225.5Q486 1276 542.5 1326.5Q599 1377 646 1472L763 1472Z" transform="translate(249.18,566.00) scale(0.00488,-0.00488)" fill="#1a1a1a" stroke="#1a1a1a" stroke-width="0.3" vector-effect="non-scaling-stroke"/>
<text x="260.30" y="566.00" font-size="10" text-anchor="end" font-weight="normal" fill="#1a1a1a" >&#8199;0</text>
<line x1="265.10" y1="546.60" x2="267.30" y2="546.60" stroke="#7f7f7f" stroke-width="1"/>
<path d="M763 0L583 0L583 1147Q518 1085 465 1054Q412 1023 358.5 992Q305 961 222 930L222 1104Q373 1175 429.5 1225.5Q486 1276 542.5 1326.5Q599 1377 646 1472L763 1472Z" transform="translate(249.18,550.20) scale(0.00488,-0.00488)" fill="#1a1a1a" stroke="#1a1a1a" stroke-width="0.3" vector-effect="non-scaling-stroke"/>
<text x="260.30" y="550.20" font-size="10" text-anchor="end" font-weight="normal" fill="#1a1a1a" >&#8199;5</text>
<line x1="265.10" y1="530.80" x2="267.30" y2="530.80" stroke="#7f7f7f" stroke-width="1"/>
<text x="260.30" y="534.40" font-size="10" text-anchor="end" font-weight="normal" fill="#1a1a1a" >20</text>
<text x="322.60" y="542.33" font-size="17" text-anchor="middle" font-weight="bold" fill="#000">*</text>
<text x="360.10" y="582.33" font-size="17" text-anchor="middle" font-weight="bold" fill="#000">*</text>
<text x="284.00" y="605.80" font-size="10" text-anchor="middle" font-weight="normal" fill="#1a1a1a" >NT</text>
<path d="M763 0L583 0L583 1147Q518 1085 465 1054Q412 1023 358.5 992Q305 961 222 930L222 1104Q373 1175 429.5 1225.5Q486 1276 542.5 1326.5Q599 1377 646 1472L763 1472Z" transform="translate(310.82,605.80) scale(0.00488,-0.00488)" fill="#1a1a1a" stroke="#1a1a1a" stroke-width="0.3" vector-effect="non-scaling-stroke"/>
<text x="313.60" y="605.80" font-size="10" text-anchor="middle" font-weight="normal" fill="#1a1a1a" >&#8199;</text>
<text x="351.40" y="605.80" font-size="10" text-anchor="middle" font-weight="normal" fill="#1a1a1a" >2</text>
<text x="389.80" y="605.80" font-size="10" text-anchor="middle" font-weight="normal" fill="#1a1a1a" >4</text>
<text x="341.80" y="620.80" font-size="11.5" text-anchor="middle" font-weight="normal" fill="#1a1a1a" >Day Post Treatment</text>
<text x="342.40" y="485.60" font-size="10" text-anchor="middle" font-weight="normal" fill="#1a1a1a" >6Gy TBI</text>
<g transform="translate(242.10,542.00) rotate(-90)">
<text class="yt" x="0" y="0" font-size="11.4" text-anchor="middle" fill="#1a1a1a"># CFU (x&#8199;0<tspan font-size="7" dy="-4">3</tspan><tspan dy="4">)/femur</tspan></text>
<path d="M763 0L583 0L583 1147Q518 1085 465 1054Q412 1023 358.5 992Q305 961 222 930L222 1104Q373 1175 429.5 1225.5Q486 1276 542.5 1326.5Q599 1377 646 1472L763 1472Z" transform="translate(-3.55,0) scale(0.00557,-0.00557)" fill="#1a1a1a" stroke="#1a1a1a" stroke-width="0.3" vector-effect="non-scaling-stroke"/>
</g>
<text x="217.60" y="495.00" font-size="14.6" font-weight="bold" fill="#000">H</text>
</svg>
</body></html>
